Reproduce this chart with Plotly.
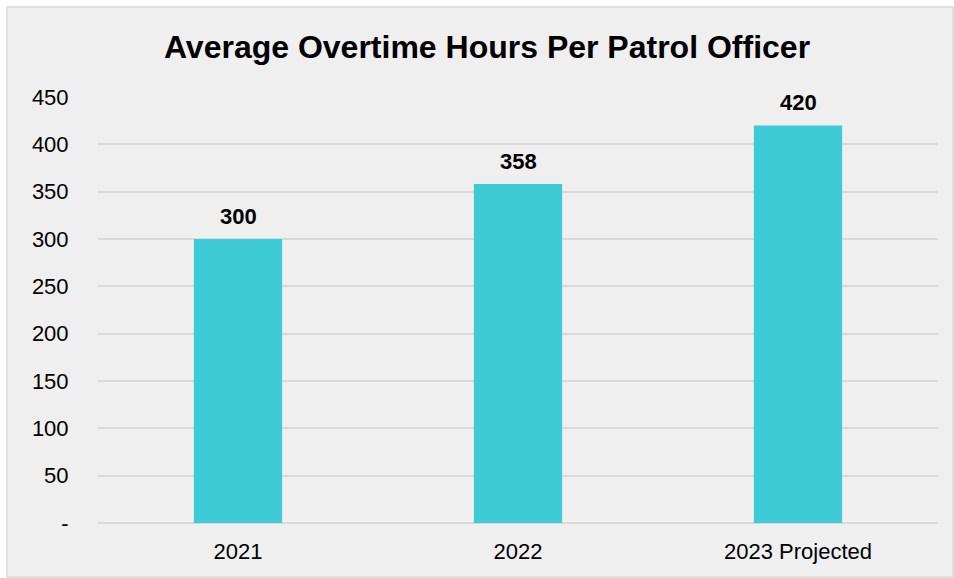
import plotly.graph_objects as go

categories = ["2021", "2022", "2023 Projected"]
values = [300, 358, 420]
tick_vals = [0, 50, 100, 150, 200, 250, 300, 350, 400, 450]
tick_text = ["-", "50", "100", "150", "200", "250", "300", "350", "400", "450"]
title_text = "Average Overtime Hours Per Patrol Officer"

W, H = 954, 578
L, R, T, B = 98, 16, 97, 55
pw, ph = W - L - R, H - T - B
FONT = "Liberation Sans, Arial"

fig = go.Figure()
fig.add_trace(go.Bar(
    x=categories, y=values, width=0.315,
    marker=dict(color="#3ecbd5", line=dict(width=0)),
    hoverinfo="skip",
))

for i, v in enumerate(values):
    fig.add_annotation(x=i, y=v, text=f"<b>{v}</b>", showarrow=False,
                       yanchor="bottom", yshift=8,
                       font=dict(family=FONT, size=22, color="#000000"))

fig.add_shape(type="rect", xref="paper", yref="paper",
              x0=(7 - L) / pw, x1=(953 - L) / pw,
              y0=(H - B - 577) / ph, y1=(H - B - 7) / ph,
              line=dict(color="#d9d9d9", width=1.5), fillcolor="#efefef", layer="below")

fig.update_layout(
    width=W, height=H,
    margin=dict(l=L, r=R, t=T, b=B),
    paper_bgcolor="#ffffff", plot_bgcolor="rgba(0,0,0,0)",
    showlegend=False,
    title=dict(text=f"<b>{title_text}</b>", x=487 / W, xanchor="center",
               y=1 - 47 / H, yanchor="middle",
               font=dict(family=FONT, size=32, color="#000000")),
    font=dict(family=FONT, size=22, color="#000000"),
)
fig.update_yaxes(range=[0, 450], tickvals=tick_vals, ticktext=tick_text,
                 showgrid=True, gridcolor="#d9d9d9", gridwidth=1.5,
                 zeroline=True, zerolinecolor="#d9d9d9", zerolinewidth=1.5,
                 ticks="outside", ticklen=24, tickcolor="rgba(0,0,0,0)",
                 showline=False, fixedrange=True)
fig.update_xaxes(type="category", range=[-0.5, len(categories) - 0.5],
                 showline=False, showgrid=False, ticks="outside", ticklen=9,
                 tickcolor="rgba(0,0,0,0)", fixedrange=True)

fig.write_html("out.html")
